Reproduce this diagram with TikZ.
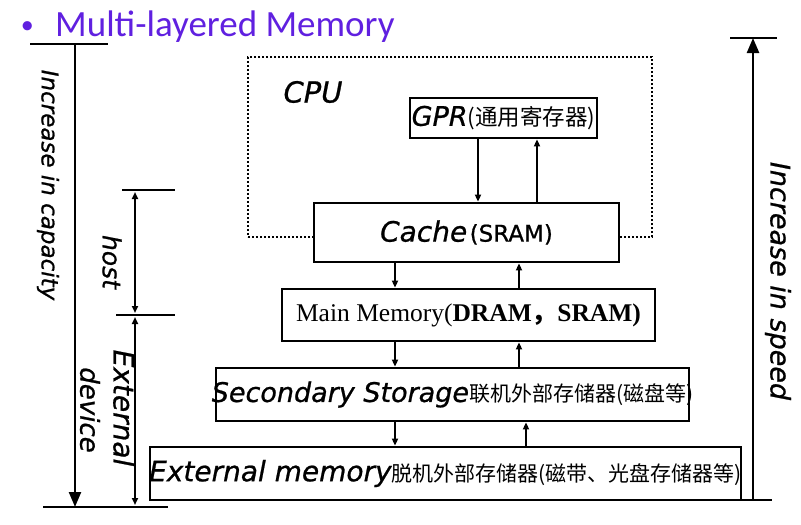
\documentclass[tikz,border=0pt]{standalone}
\usepackage{fontspec}
\setmainfont{Liberation Serif}
\newfontfamily\hand{DejaVu Sans}[FakeBold=0.8]
\newfontfamily\cjk{Noto Sans CJK SC}
\newfontfamily\titlefont{Carlito}
\usetikzlibrary{arrows.meta}
\definecolor{titleviolet}{RGB}{96,32,224}
\newcommand\fs[1]{\fontsize{#1}{#1}\selectfont}

\begin{document}
\begin{tikzpicture}[x=1pt,y=-1pt,
  membox/.style={draw, line width=2.8pt, fill=white, inner sep=0pt},
  memtext/.style={inner sep=0pt},
  bar/.style={line width=2.4pt},
  tip/.style={line width=2pt, -{Triangle[length=7pt,width=6pt]}},
  bothtip/.style={line width=2pt, {Triangle[length=7pt,width=6pt]}-{Triangle[length=7pt,width=6pt]}, shorten <=2pt, shorten >=2pt},
  bigtip/.style={bar, -{Triangle[length=15pt,width=12pt]}},
  side/.style={font=\hand\itshape\fs{#1}, rotate=-90, inner sep=0pt},
  side/.default=25
]
\useasboundingbox (0,0) rectangle (801,525);

% title
\node[anchor=base west, inner sep=0pt, text=titleviolet, font=\titlefont\fs{37}] (title) at (55,36) {Multi-layered Memory};
\node[anchor=base east, inner sep=0pt, text=titleviolet, font=\titlefont\fs{26}] (bullet) at (34,33) {\textbullet};

% CPU
\node[draw, line width=2.4pt, dash pattern=on 2.2pt off 1.8pt, minimum width=404pt, minimum height=180pt] (cpu) at (450,147) {};
\node[memtext, font=\hand\itshape\fs{29}] (cpu-t) at (313,92) {CPU};

% memory levels
\node[membox, minimum width=187pt, minimum height=40pt] (gpr) at (503.5,118) {};
\node[membox, minimum width=305pt, minimum height=59pt] (cache) at (466.5,232.5) {};
\node[membox, minimum width=373pt, minimum height=52pt] (main) at (468.5,315) {};
\node[membox, minimum width=473pt, minimum height=53pt] (sec) at (452.5,394.5) {};
\node[membox, minimum width=591pt, minimum height=53pt] (ext) at (445.5,473.5) {};

\node[memtext] (gpr-t) at (gpr.center) {{\hand\itshape\fs{27}GPR}{\cjk\fs{22.5}(通用寄存器)}};
\node[memtext] (cache-t) at (cache.center) {{\hand\itshape\fs{28}Cache} {\hand\fs{23}(SRAM)}};
\node[memtext, font=\fs{25.5}] (main-t) at (main.center) {Main Memory(\textbf{DRAM{\cjk ，}SRAM)}};
\node[memtext] (sec-t) at (sec.center) {{\hand\itshape\fs{27}Secondary Storage}{\cjk\fs{21}联机外部存储器(磁盘等)}};
\node[memtext] (ext-t) at (ext.center) {{\hand\itshape\fs{28}External memory}{\cjk\fs{21}脱机外部存储器(磁带、光盘存储器等)}};

% transfers
\draw[tip] (gpr.south -| 478,0) -- (cache.north -| 478,0);
\draw[tip] (cache.north -| 537,0) -- (gpr.south -| 537,0);
\draw[tip] (cache.south -| 395,0) -- (main.north -| 395,0);
\draw[tip] (main.north -| 519,0) -- (cache.south -| 519,0);
\draw[tip] (main.south -| 395,0) -- (sec.north -| 395,0);
\draw[tip] (sec.north -| 519,0) -- (main.south -| 519,0);
\draw[tip] (sec.south -| 395,0) -- (ext.north -| 395,0);
\draw[tip] (ext.north -| 526,0) -- (sec.south -| 526,0);

% capacity
\coordinate (captop) at (75,44);
\coordinate (capbot) at (75,507);
\draw[bar] ([xshift=-45pt]captop) -- ([xshift=33pt]captop);
\draw[bar] ([xshift=-32pt]capbot) -- ([xshift=93pt]capbot);
\draw[bigtip] (captop) -- (capbot);
\node[side=23] (capacity) at (48,185) {Increase in capacity};

% host / external device
\coordinate (hosttop) at (135,190);
\coordinate (hostmid) at (135,315);
\coordinate (hostbot) at (135,507);
\draw[bar] ([xshift=-13pt]hosttop) -- ([xshift=40pt]hosttop);
\draw[bar] ([xshift=-19pt]hostmid) -- ([xshift=40pt]hostmid);
\draw[bothtip] (hosttop) -- (hostmid);
\draw[bothtip] (hostmid) -- (hostbot);
\node[side] (host) at (112,262) {host};
\node[side=28] (external) at (124,408) {External};
\node[side=26] (device) at (90,410) {device};

% speed
\coordinate (spdtop) at (753,38);
\coordinate (spdbot) at (753,500);
\draw[bar] ([xshift=-23pt]spdtop) -- ([xshift=24pt]spdtop);
\draw[bar] ([xshift=-13pt]spdbot) -- ([xshift=19pt]spdbot);
\draw[bigtip] (spdbot) -- (spdtop);
\node[side=27] (speed) at (778,281) {Increase in speed};

\end{tikzpicture}
\end{document}
